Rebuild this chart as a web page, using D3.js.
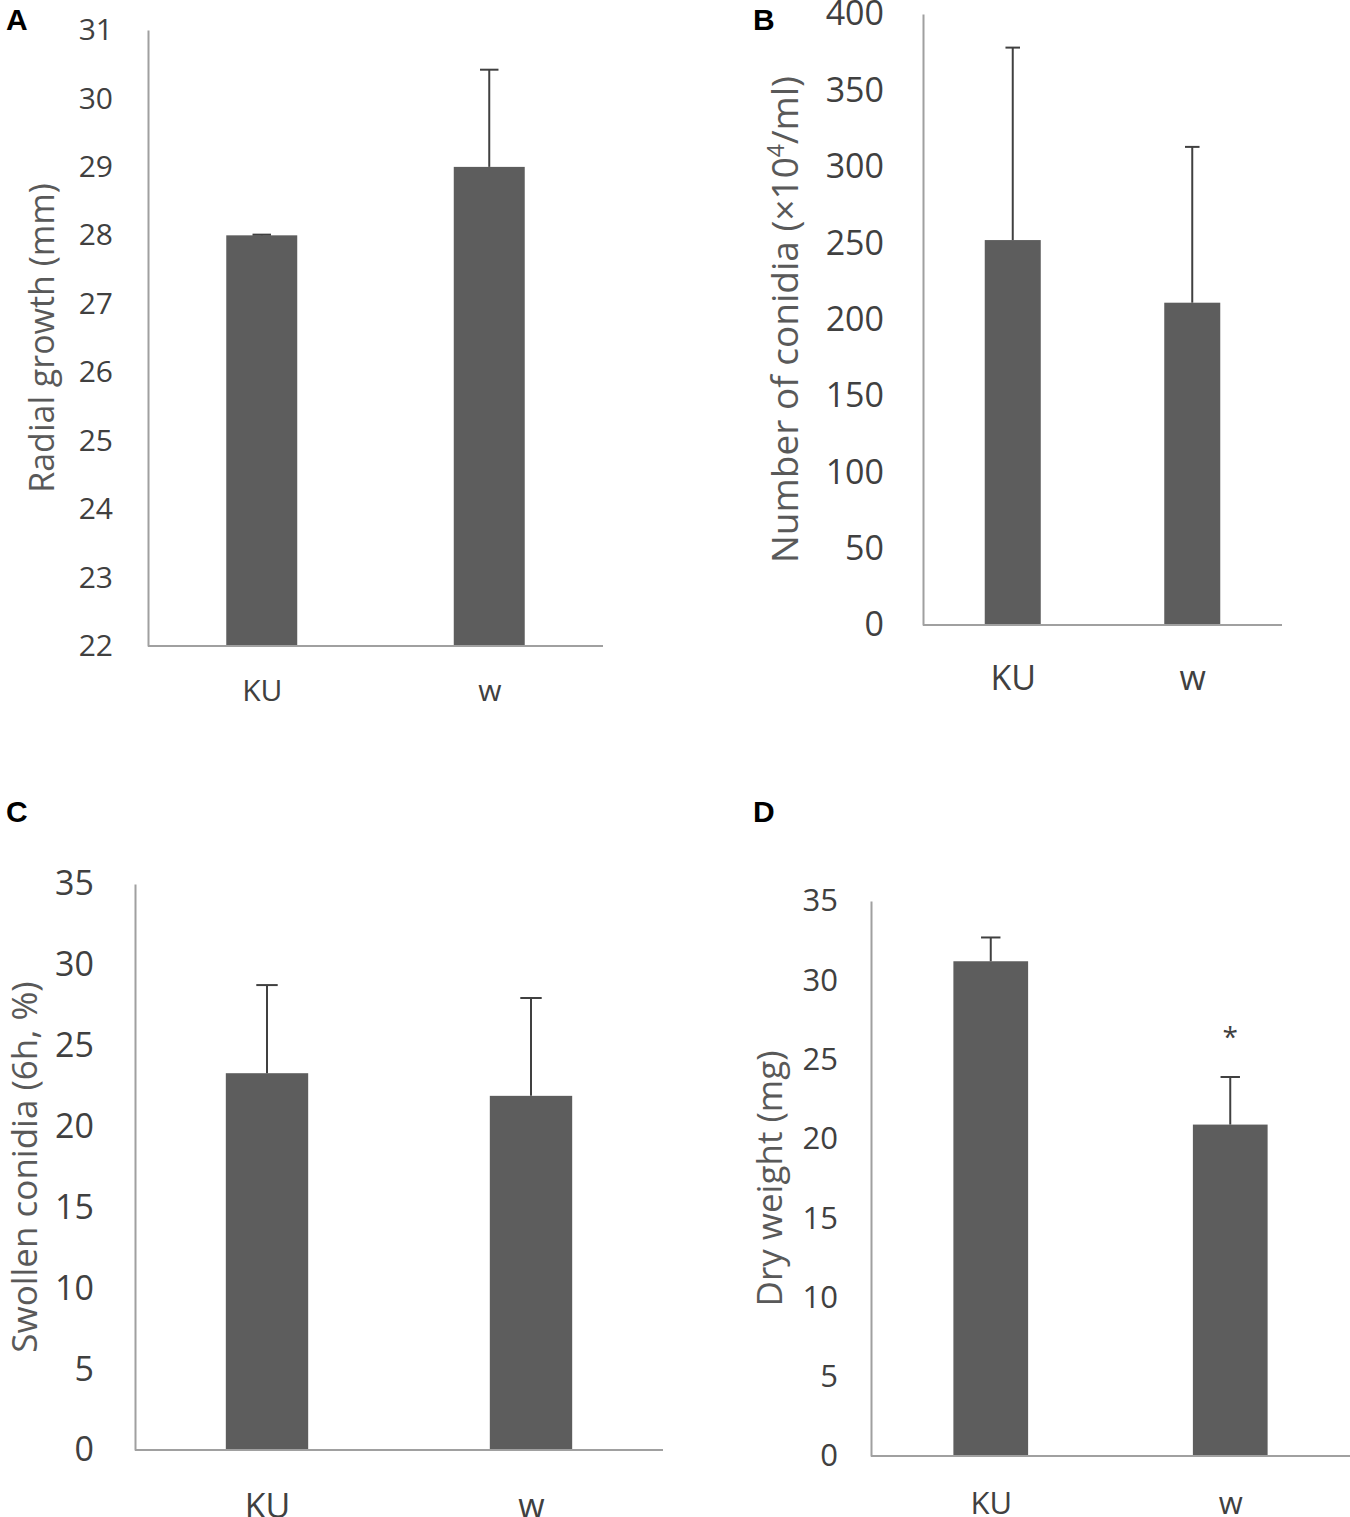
<!DOCTYPE html>
<html>
<head>
<meta charset="utf-8">
<script src="https://cdn.jsdelivr.net/npm/d3@7"></script>
<style>
  body { margin: 0; background: #fff; }
  text { font-family: "Open Sans", "Noto Sans", sans-serif; }
</style>
</head>
<body>
<div id="chart"></div>
<script>
// data
const strains = ["KU", "w"];

const radialMean = [28.0, 29.0];
const radialErr = [0.01, 1.42];
const radialTicks = [22, 23, 24, 25, 26, 27, 28, 29, 30, 31];

const conidiaMean = [252, 211];
const conidiaErr = [126, 102];
const conidiaTicks = [0, 50, 100, 150, 200, 250, 300, 350, 400];

const swollenMean = [23.3, 21.9];
const swollenErr = [5.45, 6.05];
const swollenTicks = [0, 5, 10, 15, 20, 25, 30, 35];

const dryMean = [31.2, 20.9];
const dryErr = [1.5, 3.0];
const dryTicks = [0, 5, 10, 15, 20, 25, 30, 35];
const dryStars = ["", "*"];

const width = 1350, height = 1517;

const svg = d3.select("#chart").append("svg")
    .attr("width", width)
    .attr("height", height)
    .attr("viewBox", [0, 0, width, height]);

// one panel per measurement; layout in px
const panels = [
  {letter: "A", lx: 6, ly: 30, mean: radialMean, err: radialErr, ticks: radialTicks, domain: [22, 31],
   left: 148, right: 603, top: 30, bottom: 646, fs: 30, tickGap: 35, catMid: 44, title: "Radial growth (mm)",
   titleX: 42, titleFs: 34},
  {letter: "B", lx: 753, ly: 30, mean: conidiaMean, err: conidiaErr, ticks: conidiaTicks, domain: [0, 400],
   left: 923, right: 1282, top: 14, bottom: 625, fs: 34, tickGap: 39, catMid: 53, title: "conidia",
   titleX: 785, titleFs: 37},
  {letter: "C", lx: 6, ly: 822, mean: swollenMean, err: swollenErr, ticks: swollenTicks, domain: [0, 35],
   left: 135, right: 663, top: 884, bottom: 1450, fs: 34, tickGap: 41, catMid: 56, title: "Swollen conidia (6h, %)",
   titleX: 25, titleFs: 35},
  {letter: "D", lx: 753, ly: 822, mean: dryMean, err: dryErr, ticks: dryTicks, domain: [0, 35],
   left: 871, right: 1350, top: 901, bottom: 1456, fs: 31, tickGap: 33, catMid: 47, title: "Dry weight (mg)",
   titleX: 770, titleFs: 35, stars: dryStars}
];

for (let p of panels) {
  let g = svg.append("g");

  let x = d3.scalePoint()
      .domain(strains)
      .range([p.left, p.right])
      .padding(0.5);
  let barW = x.step() * 0.312;

  let y = d3.scaleLinear()
      .domain(p.domain)
      .range([p.bottom, p.top]);

  let rows = strains.map((s, i) => ({s: s, m: p.mean[i], e: p.err[i], star: p.stars ? p.stars[i] : ""}));

  // bars
  g.selectAll("rect.bar")
    .data(rows)
    .join("rect")
      .attr("class", "bar")
      .attr("x", d => x(d.s) - barW / 2)
      .attr("width", barW)
      .attr("y", d => y(d.m))
      .attr("height", d => y(p.domain[0]) - y(d.m))
      .attr("fill", "#5d5d5d");

  // error bars (upper only)
  g.selectAll("line.err")
    .data(rows)
    .join("line")
      .attr("class", "err")
      .attr("x1", d => x(d.s)).attr("x2", d => x(d.s))
      .attr("y1", d => y(d.m)).attr("y2", d => y(d.m + d.e))
      .attr("stroke", "#404040").attr("stroke-width", 2);
  g.selectAll("line.cap")
    .data(rows)
    .join("line")
      .attr("class", "cap")
      .attr("x1", d => x(d.s) - barW * 0.13).attr("x2", d => x(d.s) + barW * 0.13)
      .attr("y1", d => y(d.m + d.e)).attr("y2", d => y(d.m + d.e))
      .attr("stroke", "#404040").attr("stroke-width", 2);

  g.selectAll("text.star")
    .data(rows.filter(d => d.star))
    .join("text")
      .attr("class", "star")
      .attr("x", d => x(d.s))
      .attr("y", d => y(d.m + d.e) - 30)
      .attr("text-anchor", "middle")
      .attr("font-size", 28)
      .attr("fill", "#404040")
      .text(d => d.star);

  // y axis
  let yAxis = g.append("g")
      .attr("transform", `translate(${p.left},0)`)
      .call(d3.axisLeft(y).tickValues(p.ticks).tickSize(0).tickPadding(p.tickGap));
  yAxis.select(".domain").attr("stroke", "#a0a0a0").attr("stroke-width", 2);
  yAxis.selectAll("text")
      .attr("font-size", p.fs)
      .attr("fill", "#404040")
      .style("font-family", "'Open Sans', sans-serif");

  // x axis
  let xAxis = g.append("g")
      .attr("transform", `translate(0,${p.bottom})`)
      .call(d3.axisBottom(x).tickSize(0).tickPadding(p.catMid - p.fs * 0.35));
  xAxis.select(".domain").attr("stroke", "#a0a0a0").attr("stroke-width", 2)
      .attr("d", `M${p.left},0H${p.right}`);
  xAxis.selectAll("text")
      .attr("font-size", p.fs)
      .attr("fill", "#404040")
      .style("font-family", "'Open Sans', sans-serif");

  // axis title
  let t = g.append("text")
      .attr("transform", `translate(${p.titleX},${(p.top + p.bottom) / 2}) rotate(-90)`)
      .attr("text-anchor", "middle")
      .attr("dy", "0.35em")
      .attr("font-size", p.titleFs)
      .attr("fill", "#595959");
  if (p.letter === "B") {
    t.append("tspan").text("Number of conidia (\u00d710");
    t.append("tspan").attr("dy", -14).attr("font-size", p.titleFs * 0.62).text("4");
    t.append("tspan").attr("dy", 14).text("/ml)");
  } else {
    t.text(p.title);
  }

  // panel letter
  svg.append("text")
      .attr("x", p.lx)
      .attr("y", p.ly)
      .attr("font-size", 30)
      .attr("font-weight", "bold")
      .style("font-family", "'Liberation Sans', Arial, sans-serif")
      .attr("fill", "#000")
      .text(p.letter);
}
</script>
</body>
</html>
